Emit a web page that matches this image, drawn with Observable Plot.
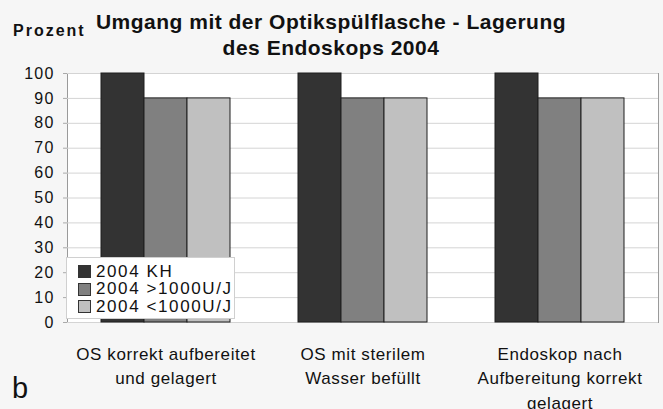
<!DOCTYPE html>
<html>
<head>
<meta charset="utf-8">
<script src="https://cdn.jsdelivr.net/npm/d3@7"></script>
<script src="https://cdn.jsdelivr.net/npm/@observablehq/plot@0.6"></script>
<style>
  html, body { margin: 0; padding: 0; background: #f6f6f6; }
  body { width: 663px; height: 409px; overflow: hidden; font-family: "Liberation Sans", Arial, sans-serif; color: #111; }
  #wrap { position: relative; width: 663px; height: 409px; }
  #title { position: absolute; left: 0; top: 0; width: 663px; height: 60px; }
  .t1, .t2 { position: absolute; left: 0; width: 662px; text-align: center; font-weight: bold; font-size: 21px; letter-spacing: 0.5px; white-space: nowrap; line-height: 1; }
  .t1 { top: 11px; }
  .t2 { top: 37px; }
  #ylab { position: absolute; left: 13px; top: 23px; font-weight: bold; font-size: 16px; letter-spacing: 2px; line-height: 1; }
  #chart { position: absolute; left: 0; top: 60px; }
  #chart text { letter-spacing: 1.2px; }
  #chart g[aria-label="fx-axis tick label"] text { letter-spacing: 0.6px; }
  #legend { position: absolute; left: 66px; top: 257px; width: 169px; height: 62px; background: #fff; border: 1px solid #d0d0d0; box-sizing: border-box; padding: 5px 0 0 11px; }
  .item { display: flex; align-items: center; height: 17.5px; font-size: 17px; letter-spacing: 1.6px; white-space: nowrap; }
  .sw { width: 13px; height: 13px; border: 1px solid #333; box-sizing: border-box; margin-right: 5px; }
  #panel { position: absolute; left: 12px; top: 374px; font-size: 29px; line-height: 1; }
</style>
</head>
<body>
<div id="wrap">
  <div id="title"><div class="t1">Umgang mit der Optikspülflasche - Lagerung</div><div class="t2">des Endoskops 2004</div></div>
  <div id="ylab">Prozent</div>
  <div id="chart"></div>
  <div id="legend"></div>
  <div id="panel">b</div>
</div>
<script>
const categories = ["OS korrekt aufbereitet und gelagert", "OS mit sterilem Wasser befüllt", "Endoskop nach Aufbereitung korrekt gelagert"];
const categoryLabels = ["OS korrekt aufbereitet\nund gelagert", "OS mit sterilem\nWasser befüllt", "Endoskop nach\nAufbereitung korrekt\ngelagert"];
const series = ["2004 KH", "2004 >1000U/J", "2004 <1000U/J"];
const valuesKH = [100, 100, 100];
const valuesOver1000 = [90, 90, 90];
const valuesUnder1000 = [90, 90, 90];
const seriesColors = ["#333333", "#808080", "#c0c0c0"];
const yTicks = [0, 10, 20, 30, 40, 50, 60, 70, 80, 90, 100];

const seriesValues = [valuesKH, valuesOver1000, valuesUnder1000];
const data = [];
categories.forEach((c, i) => series.forEach((s, j) => data.push({category: c, series: s, value: seriesValues[j][i]})));
const labelOf = new Map(categories.map((c, i) => [c, categoryLabels[i]]));

const chart = Plot.plot({
  width: 663,
  height: 349,
  marginTop: 13,
  marginBottom: 87,
  marginLeft: 66,
  marginRight: 4,
  style: {background: "transparent", fontFamily: "'Liberation Sans', Arial, sans-serif", fontSize: "16px", color: "#111"},
  fx: {domain: categories, padding: 0, label: null, axis: null},
  x: {domain: series, paddingInner: 0, paddingOuter: 0.75, axis: null},
  y: {domain: [0, 100], label: null, axis: null},
  color: {domain: series, range: seriesColors},
  marks: [
    Plot.frame({facet: "super", fill: "white", stroke: "#9a9a9a"}),
    Plot.gridY(yTicks, {stroke: "#d4d4d4", strokeOpacity: 1}),
    Plot.barY(data, {fx: "category", x: "series", y: "value", fill: "series", stroke: "#1e1e1e", strokeWidth: 1, insetLeft: 0, insetRight: 0}),
    Plot.axisY(yTicks, {tickSize: 4, tickPadding: 9, fontSize: 16, label: null, stroke: "#aaa"}),
    Plot.axisFx({anchor: "bottom", tickFormat: d => labelOf.get(d), tickSize: 0, tickPadding: 20, fontSize: 17, lineHeight: 1.44, label: null})
  ]
});
document.getElementById("chart").appendChild(chart);

const legend = document.getElementById("legend");
series.forEach((s, i) => {
  const row = document.createElement("div");
  row.className = "item";
  const sw = document.createElement("div");
  sw.className = "sw";
  sw.style.background = seriesColors[i];
  const tx = document.createElement("span");
  tx.textContent = s;
  row.appendChild(sw);
  row.appendChild(tx);
  legend.appendChild(row);
});
</script>
</body>
</html>
